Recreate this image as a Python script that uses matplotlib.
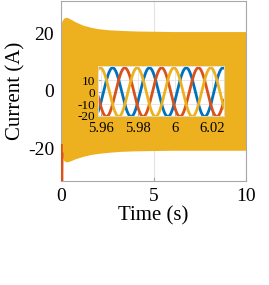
import numpy as np
import matplotlib
matplotlib.use("Agg")
import matplotlib.pyplot as plt

# ---- data ----
# envelope of the (yellow) phase current over the whole run
env_t = [0.0, 0.05, 0.15, 0.3, 0.5, 0.8, 1.2, 1.6, 2.0, 2.6, 3.2, 4.0, 5.0, 6.0, 8.0, 10.0]
env_upper = [23.0, 24.3, 25.3, 25.6, 25.0, 23.9, 22.8, 22.1, 21.6, 21.2, 21.0, 20.8, 20.7, 20.6, 20.6, 20.6]
env_lower = [-20.5, -22.5, -24.3, -24.8, -24.4, -23.6, -22.8, -22.2, -21.8, -21.4, -21.1, -20.9, -20.8, -20.7, -20.7, -20.7]
# start-up transient of the orange phase (only visible at t ~ 0)
orange_t = [0.02, 0.03, 0.045, 0.06]
orange_i = [-19.0, -28.0, -36.0, -22.0]

# zoomed window (three-phase currents, 50 Hz)
freq = 50.0
amp = 20.5
peak_time_blue = 5.9662
peak_time_orange = 5.9728
peak_time_yellow = 5.9595

main_xticks = [0, 5, 10]
main_yticks = [-20, 0, 20]
inset_xticks = [5.96, 5.98, 6.0, 6.02]
inset_xticklabels = ["5.96", "5.98", "6", "6.02"]
inset_yticks = [-20, -10, 0, 10]

C_BLUE = "#0072BD"
C_ORANGE = "#D95319"
C_YELLOW = "#EDB120"
GRID = "#E3E3E3"
EDGE = "#A8A8A8"

plt.rcParams["font.family"] = ["Liberation Serif", "DejaVu Serif"]
plt.rcParams["axes.unicode_minus"] = False

fig = plt.figure(figsize=(2.69, 2.85), dpi=100)
ax = fig.add_axes([0.2268, 0.3649, 0.6877, 0.6333])
ax.set_xlim(0, 10)
ax.set_ylim(-31.4, 31.4)
ax.set_axisbelow(True)
ax.grid(True, color=GRID, linewidth=0.8)
ax.fill_between(env_t, env_lower, env_upper, color=C_YELLOW, linewidth=0, zorder=2)
ax.plot(orange_t, orange_i, color=C_ORANGE, linewidth=2.0, zorder=3)
ax.set_xticks(main_xticks)
ax.set_yticks(main_yticks)
ax.tick_params(axis="both", which="major", direction="in", length=3, color=EDGE,
               labelsize=14, pad=5)
for s in ax.spines.values():
    s.set_color(EDGE)
    s.set_linewidth(0.8)
ax.set_xlabel("Time (s)", fontsize=15, labelpad=1)
ax.set_ylabel("Current (A)", fontsize=15, labelpad=2)

# inset
ins = fig.add_axes([0.3654, 0.5930, 0.4673, 0.1754])
xlim_ins = (5.9584, 6.0267)
t = np.linspace(xlim_ins[0], xlim_ins[1], 800)
for pk, col in [(peak_time_blue, C_BLUE), (peak_time_orange, C_ORANGE), (peak_time_yellow, C_YELLOW)]:
    ins.plot(t, amp * np.cos(2 * np.pi * freq * (t - pk)), color=col, linewidth=2.0)
ins.set_xlim(*xlim_ins)
ins.set_ylim(-20, 22)
ins.set_facecolor("white")
ins.set_axisbelow(True)
ins.grid(True, color=GRID, linewidth=0.6)
ins.set_xticks(inset_xticks)
ins.set_xticklabels(inset_xticklabels)
ins.set_yticks(inset_yticks)
ins.tick_params(axis="y", direction="in", length=2, color=EDGE, labelsize=9.5, pad=2)
ins.tick_params(axis="x", direction="in", length=2, color=EDGE, labelsize=10.5, pad=4)
for s in ins.spines.values():
    s.set_color("#DDDDDD")
    s.set_linewidth(0.6)

fig.savefig("out.png", dpi=100)
